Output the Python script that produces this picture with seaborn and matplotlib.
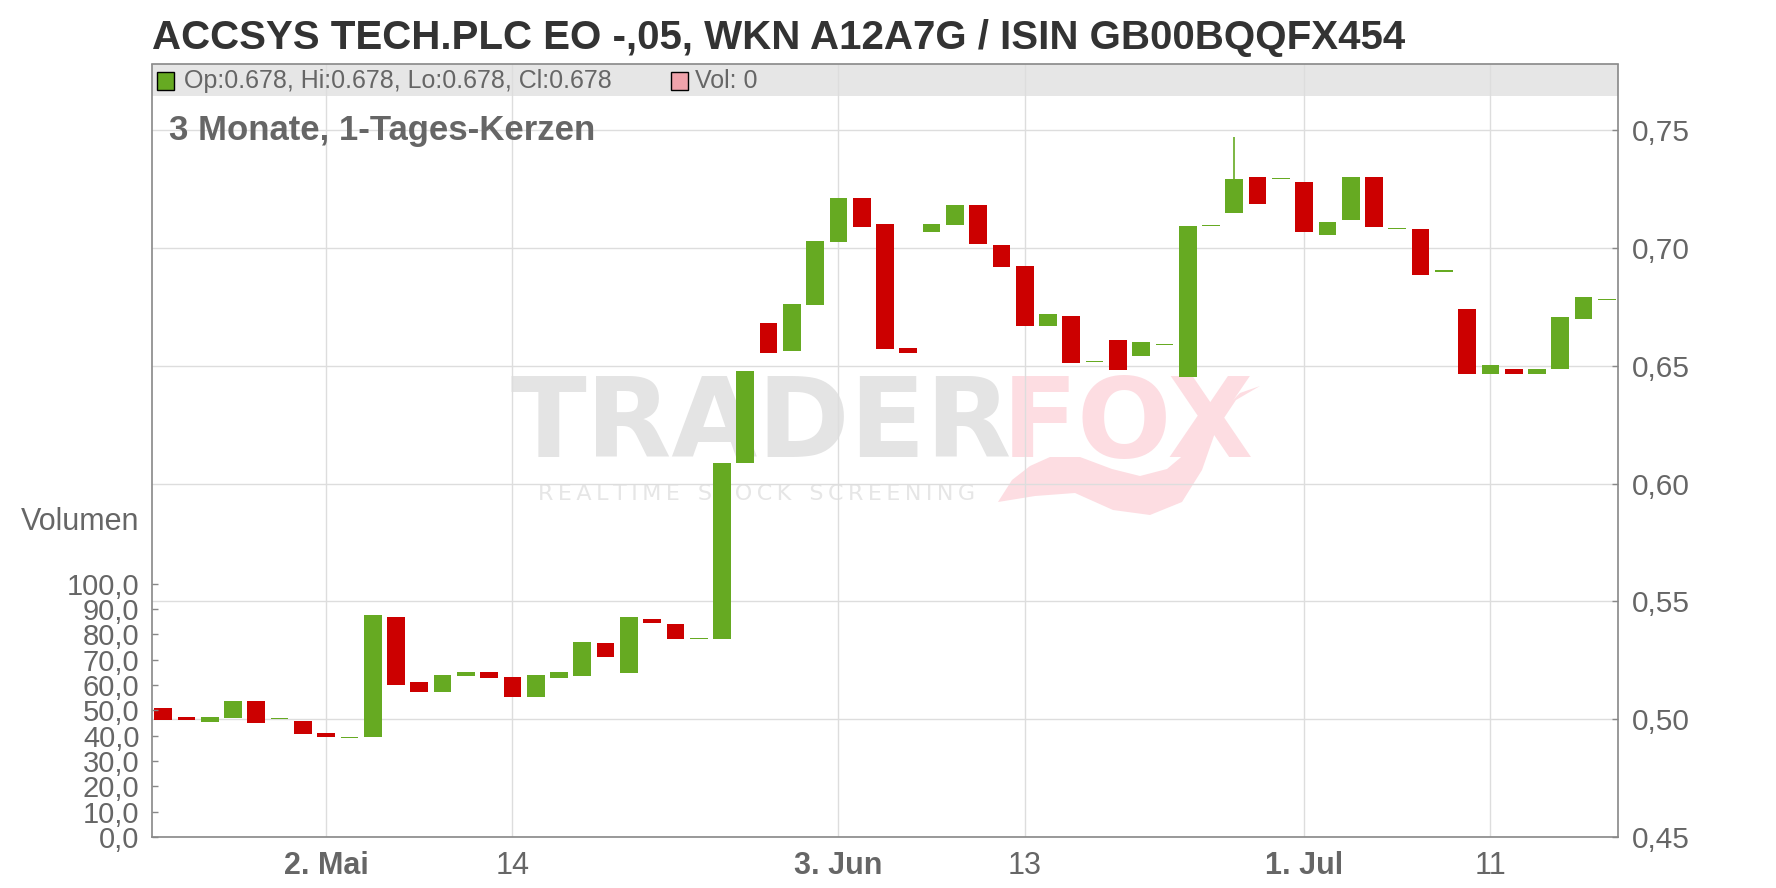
import numpy as np
import pandas as pd
import matplotlib
matplotlib.use("Agg")
import matplotlib.pyplot as plt
from matplotlib.patches import Rectangle, Polygon
import seaborn as sns

sns.set_style("white")
plt.rcParams['font.family'] = ['Liberation Sans', 'DejaVu Sans']

# daily candles, 23 Apr - 18 Jul 2024
dates = pd.bdate_range("2024-04-23", "2024-07-18")
opens = [0.5047, 0.5009, 0.4987, 0.5004, 0.5077, 0.5000, 0.4991, 0.4940, 0.4920, 0.4923,
         0.5433, 0.5159, 0.5116, 0.5184, 0.5201, 0.5180, 0.5094, 0.5176, 0.5184, 0.5322,
         0.5197, 0.5424, 0.5403, 0.5340, 0.5342, 0.6087, 0.6681, 0.6565, 0.6758, 0.7027,
         0.7215, 0.7104, 0.6578, 0.7070, 0.7100, 0.7185, 0.7014, 0.6924, 0.6668, 0.6711,
         0.6516, 0.6612, 0.6544, 0.6590, 0.6454, 0.7094, 0.7150, 0.7304, 0.7294, 0.7281,
         0.7055, 0.7119, 0.7302, 0.7080, 0.7081, 0.6901, 0.6740, 0.6468, 0.6489, 0.6468,
         0.6485, 0.6698, 0.6780]
closes = [0.4996, 0.4996, 0.5009, 0.5077, 0.4983, 0.5000, 0.4936, 0.4923, 0.4925, 0.5442,
          0.5146, 0.5116, 0.5189, 0.5201, 0.5176, 0.5094, 0.5189, 0.5201, 0.5330, 0.5266,
          0.5433, 0.5407, 0.5339, 0.5340, 0.6090, 0.6480, 0.6557, 0.6762, 0.7031, 0.7215,
          0.7091, 0.6574, 0.6557, 0.7104, 0.7185, 0.7019, 0.6920, 0.6668, 0.6719, 0.6514,
          0.6516, 0.6484, 0.6600, 0.6590, 0.7095, 0.7094, 0.7295, 0.7189, 0.7294, 0.7068,
          0.7111, 0.7302, 0.7089, 0.7080, 0.6885, 0.6901, 0.6468, 0.6502, 0.6468, 0.6489,
          0.6710, 0.6791, 0.6780]
highs = [max(o, c) for o, c in zip(opens, closes)]
highs[46] = 0.7474
lows = [min(o, c) for o, c in zip(opens, closes)]
volumes = [0] * len(dates)

tick_dates = ["2024-05-02", "2024-05-14", "2024-06-03", "2024-06-13", "2024-07-01", "2024-07-11"]
tick_labels = ["2. Mai", "14", "3. Jun", "13", "1. Jul", "11"]
price_ticks = [0.45, 0.50, 0.55, 0.60, 0.65, 0.70, 0.75]
vol_ticks = [0, 10, 20, 30, 40, 50, 60, 70, 80, 90, 100]

GREEN = "#66aa22"
RED = "#cc0000"
GRID = "#dddddd"
TXT = "#666666"

df = pd.DataFrame({"date": dates, "open": opens, "close": closes,
                   "high": highs, "low": lows, "vol": volumes})
df["x"] = np.arange(len(df))
df["up"] = df["close"] >= df["open"]

W, H = 1776, 888
fig = plt.figure(figsize=(W / 100, H / 100), dpi=100)
L, R, T, B = 152, 1618, 64.5, 837
ax = fig.add_axes([L / W, 1 - B / H, (R - L) / W, (B - T) / H])
ax.set_axisbelow(True)
ax_vol = ax.twinx()

def fx(x):
    return x / W

def fy(y):
    return 1 - y / H

# candles
body_h = np.maximum((df["close"] - df["open"]).abs(), 0.0005)
body_b = np.minimum(df["open"], df["close"])
cols = np.where(df["up"], GREEN, RED)
ax.vlines(df["x"], df["low"], df["high"], colors=cols, linewidth=1.2, zorder=2)
ax.bar(df["x"], body_h, bottom=body_b, width=0.76, color=cols, linewidth=0, zorder=3)

ax.set_xlim(-0.48, len(df) - 0.52)
ax.set_ylim(0.45, 0.778)

# price axis on the right
ax.yaxis.set_ticks_position("right")
ax.yaxis.set_label_position("right")
ax.set_yticks(price_ticks)
ax.set_yticklabels([f"{v:.2f}".replace(".", ",") for v in price_ticks])
ax.tick_params(axis="y", direction="in", length=4, width=1, color="#888888",
               labelsize=21.5, labelcolor=TXT, pad=10)
ax.grid(axis="y", color=GRID, linewidth=1)

# date ticks
tick_pos = [int(df.index[df["date"] == pd.Timestamp(d)][0]) for d in tick_dates]
ax.set_xticks(tick_pos)
ax.set_xticklabels(tick_labels)
ax.tick_params(axis="x", direction="out", length=4, width=1, color="#888888",
               labelsize=22, labelcolor=TXT, pad=6)
for lbl in ax.get_xticklabels():
    if "." in lbl.get_text():
        lbl.set_fontweight("bold")
ax.grid(axis="x", color=GRID, linewidth=1)

for s in ax.spines.values():
    s.set_color("#888888")
    s.set_linewidth(1.2)

# legend band at the top of the plot
ax.add_patch(Rectangle((0, 1 - 31.5 / (B - T)), 1, 31.5 / (B - T), transform=ax.transAxes,
                       facecolor="#e6e6e6", edgecolor="none", zorder=0.3))
ax.add_patch(Rectangle((fx(157), fy(90)), 17 / W, 18 / H, transform=fig.transFigure,
                       facecolor=GREEN, edgecolor="black", linewidth=1, zorder=4))
ax.text(fx(184), fy(81), "Op:0.678, Hi:0.678, Lo:0.678, Cl:0.678", transform=fig.transFigure,
        fontsize=18, color=TXT, va="center", ha="left", zorder=4)
ax.add_patch(Rectangle((fx(671), fy(90)), 17 / W, 18 / H, transform=fig.transFigure,
                       facecolor="#f0a3ab", edgecolor="black", linewidth=1, zorder=4))
ax.text(fx(695), fy(81), "Vol: 0", transform=fig.transFigure,
        fontsize=18, color=TXT, va="center", ha="left", zorder=4)

# watermark
ax.text(fx(510), fy(426), "TRADER", transform=fig.transFigure, fontsize=80,
        fontweight="bold", family="DejaVu Sans", color="#e4e4e4", va="center", ha="left", zorder=0.2)
ax.text(fx(1002), fy(426), "FOX", transform=fig.transFigure, fontsize=80,
        fontweight="bold", family="DejaVu Sans", color="#fddde2", va="center", ha="left", zorder=0.2)
ax.text(fx(538), fy(494), "\u2009".join("REALTIME STOCK SCREENING").replace("\u2009 \u2009", "\u2009\u2009\u2009\u2009"),
        transform=fig.transFigure, fontsize=16, family="DejaVu Sans", color="#e6e6e6",
        va="center", ha="left", zorder=0.2)
# fox tail under the logo
tail = [(998, 502), (1012, 480), (1030, 466), (1050, 457), (1080, 457), (1112, 469),
        (1140, 476), (1167, 469), (1193, 447), (1220, 413), (1240, 393), (1260, 386),
        (1236, 400), (1216, 430), (1202, 470), (1182, 502), (1150, 515), (1113, 510),
        (1075, 493), (1035, 496)]
ax.add_patch(Polygon([(fx(a), fy(b)) for a, b in tail], closed=True, transform=fig.transFigure,
                     facecolor="#fddde2", edgecolor="none", zorder=0.2))

# volume axis on the left (all zero)
sns.barplot(data=df, x="x", y="vol", ax=ax_vol, color="#f0a3ab", errorbar=None,
            linewidth=0, zorder=1)
ax_vol.set_xlim(-0.48, len(df) - 0.52)
ax_vol.set_ylim(0, 305)
ax_vol.yaxis.set_ticks_position("left")
ax_vol.yaxis.set_label_position("left")
ax_vol.set_yticks(vol_ticks)
ax_vol.set_yticklabels([f"{v:.1f}".replace(".", ",") for v in vol_ticks])
ax_vol.tick_params(axis="y", direction="in", length=4, width=1, color="#888888",
                   labelsize=21, labelcolor=TXT, pad=9)
ax_vol.set_xlabel("")
ax_vol.set_ylabel("")
ax_vol.set_xticks(tick_pos)
ax_vol.tick_params(axis="x", which="both", length=0, labelbottom=False, labeltop=False)
for s in ax_vol.spines.values():
    s.set_visible(False)

fig.text(fx(139), fy(522), "Volumen", fontsize=22, color=TXT, ha="right", va="center")

fig.text(fx(152), fy(49), "ACCSYS TECH.PLC EO -,05, WKN A12A7G / ISIN GB00BQQFX454",
         fontsize=29, fontweight="bold", color="#333333", ha="left", va="baseline")
fig.text(fx(169), fy(140), "3 Monate, 1-Tages-Kerzen", fontsize=25, fontweight="bold",
         color=TXT, ha="left", va="baseline")

fig.savefig("out.png", dpi=100)
